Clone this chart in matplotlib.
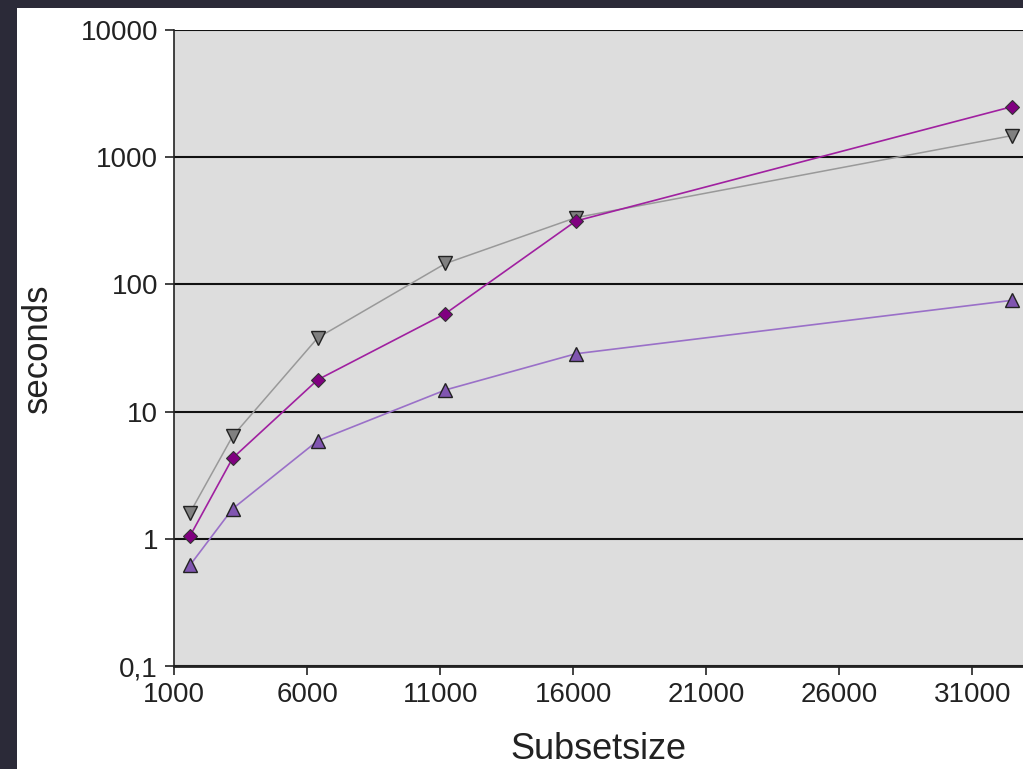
import matplotlib
matplotlib.use('Agg')

import numpy as np
import matplotlib.pyplot as plt
from matplotlib.patches import Rectangle
from matplotlib.ticker import FixedLocator, FuncFormatter

# subset sizes and timings (seconds)
subset = [1600, 3200, 6400, 11200, 16100, 32500]
t_gray = [1.6, 6.4, 38, 146, 335, 1480]
t_diamond = [1.05, 4.3, 17.8, 59, 315, 2500]
t_tri = [0.62, 1.72, 5.9, 14.8, 28.5, 75]

xticks = [1000, 6000, 11000, 16000, 21000, 26000, 31000]
yticks = [0.1, 1, 10, 100, 1000, 10000]
ylabels = ['0,1', '1', '10', '100', '1000', '10000']

plt.rcParams['font.family'] = ['Liberation Sans', 'DejaVu Sans']

fig = plt.figure(figsize=(10.23, 7.69), dpi=100)
fig.patch.set_facecolor('#2b2a38')
# white slide panel behind the chart
fig.patches.append(Rectangle((17/1023, 0), 1.0, 1 - 8/769, transform=fig.transFigure,
                             facecolor='white', edgecolor='none', zorder=-10))

ax = fig.add_axes([174/1023, 103/769, 1 - 174/1023, 636/769])
ax.set_facecolor('#dddddd')

ax.plot(subset, t_gray, color='#999999', lw=1.1, marker='v', ms=9.5,
        mfc='#808080', mec='#222222', mew=1.0, zorder=3)
ax.plot(subset, t_diamond, color='#a020a0', lw=1.2, marker='D', ms=7,
        mfc='#800080', mec='#333333', mew=0.8, zorder=4)
ax.plot(subset, t_tri, color='#9a70c8', lw=1.2, marker='^', ms=9.5,
        mfc='#8055b0', mec='#222222', mew=1.0, zorder=3)

ax.set_yscale('log')
ax.set_ylim(0.1, 10000)
ax.set_xlim(1000, 32900)

ax.yaxis.set_major_locator(FixedLocator(yticks))
ax.yaxis.set_minor_locator(FixedLocator([]))
ax.yaxis.set_major_formatter(FuncFormatter(lambda v, p: ylabels[yticks.index(v)] if v in yticks else ''))
ax.set_xticks(xticks)

ax.grid(axis='y', color='#111111', lw=1.5)
ax.set_axisbelow(True)

ax.spines['right'].set_visible(False)
ax.spines['top'].set_visible(False)
ax.spines['left'].set_color('#222222')
ax.spines['bottom'].set_color('#222222')
ax.spines['bottom'].set_linewidth(2)
ax.spines['left'].set_linewidth(1.2)

ax.tick_params(axis='both', direction='out', length=6.5, width=1.2, color='#222222',
               labelsize=20, labelcolor='#222222', pad=5)

ax.set_xlabel('Subsetsize', fontsize=26, color='#222222', labelpad=17)
ax.set_ylabel('seconds', fontsize=25, color='#222222', labelpad=19)

fig.savefig('out.png', dpi=100, facecolor=fig.get_facecolor())
